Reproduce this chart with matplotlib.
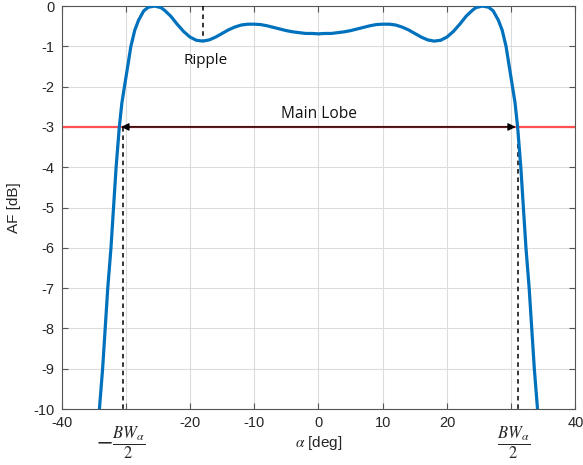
import matplotlib
matplotlib.use("Agg")
import matplotlib.pyplot as plt

# ---- data ----
alpha_deg = [-34.1, -33.6, -33.2, -32.8, -32.3, -31.9, -31.5, -31.0, -30.6, -30.2,
             -29.7, -29.2, -28.6, -28.0, -27.2, -26.5, -25.5, -24.5, -24.0, -23.0,
             -22.0, -21.0, -20.0, -19.0, -18.0, -17.0, -16.0, -15.0, -14.0, -13.0,
             -12.0, -11.0, -10.0, -9.0, -8.0, -7.0, -6.0, -5.0, -4.0, -3.0,
             -2.0, -1.0, 0.0, 1.0, 2.0, 3.0, 4.0, 5.0, 6.0, 7.0,
             8.0, 9.0, 10.0, 11.0, 12.0, 13.0, 14.0, 15.0, 16.0, 17.0,
             18.0, 19.0, 20.0, 21.0, 22.0, 23.0, 24.0, 24.5, 25.5, 26.5,
             27.2, 28.0, 28.6, 29.2, 29.7, 30.2, 30.6, 31.0, 31.5, 31.9,
             32.3, 32.8, 33.2, 33.6, 34.1]
af_db = [-10.0, -9.0, -8.0, -7.0, -6.0, -5.0, -4.0, -3.0, -2.4, -2.0,
         -1.5, -1.0, -0.6, -0.35, -0.12, -0.03, 0.0, -0.04, -0.1, -0.25,
         -0.45, -0.63, -0.77, -0.85, -0.87, -0.84, -0.77, -0.68, -0.59, -0.52,
         -0.47, -0.45, -0.45, -0.46, -0.49, -0.53, -0.57, -0.61, -0.64, -0.66,
         -0.68, -0.68, -0.69, -0.68, -0.68, -0.66, -0.64, -0.61, -0.57, -0.53,
         -0.49, -0.46, -0.45, -0.45, -0.47, -0.52, -0.59, -0.68, -0.77, -0.84,
         -0.87, -0.85, -0.77, -0.63, -0.45, -0.25, -0.1, -0.04, 0.0, -0.03,
         -0.12, -0.35, -0.6, -1.0, -1.5, -2.0, -2.4, -3.0, -4.0, -5.0,
         -6.0, -7.0, -8.0, -9.0, -10.0]

level_3db = -3.0
bw_left, bw_right = -30.5, 31.0
arrow_left, arrow_right = -30.7, 30.7
ripple_x, ripple_y = -18.0, -0.87

x_ticks = [-40, -30, -20, -10, 0, 10, 20, 30, 40]
x_ticklabels = ["-40", "", "-20", "-10", "0", "10", "20", "", "40"]
y_ticks = [0, -1, -2, -3, -4, -5, -6, -7, -8, -9, -10]

# ---- figure ----
plt.rcParams["font.family"] = ["Liberation Sans", "DejaVu Sans"]
plt.rcParams["mathtext.fontset"] = "stix"
fig = plt.figure(figsize=(5.83, 4.65), dpi=100)
ax = fig.add_axes([0.1055, 0.1204, 0.8815, 0.8666])

tick_col = "#262626"
ax.set_xlim(-40, 40)
ax.set_ylim(-10, 0)
ax.set_xticks(x_ticks)
ax.set_xticklabels(x_ticklabels)
ax.set_yticks(y_ticks)
ax.set_yticklabels([str(v) for v in y_ticks])
ax.grid(True, color="#dcdcdc", linewidth=0.8)
ax.set_axisbelow(True)
ax.tick_params(direction="in", top=True, right=True, length=4, width=0.8,
               colors="#555555", labelcolor=tick_col, labelsize=10.5, pad=5)
for s in ax.spines.values():
    s.set_color("#555555")
    s.set_linewidth(0.8)

# red -3 dB line
ax.axhline(level_3db, color="#ff5050", linewidth=1.6, zorder=2)
# main-lobe arrow
ax.annotate("", xy=(arrow_left, level_3db), xytext=(arrow_right, level_3db),
            arrowprops=dict(arrowstyle="<|-|>", color="black", lw=1.0,
                            mutation_scale=11, shrinkA=0, shrinkB=0), zorder=3)
# dashed BW lines
ax.plot([bw_left, bw_left], [level_3db, -10], color="black", linestyle=(0, (3, 2.5)), lw=1.1, zorder=3)
ax.plot([bw_right, bw_right], [level_3db, -10], color="black", linestyle=(0, (3, 2.5)), lw=1.1, zorder=3)
# ripple dashed line
ax.plot([ripple_x, ripple_x], [0, ripple_y], color="black", linestyle=(0, (3, 2.5)), lw=1.1, zorder=3)

# curve
ax.plot(alpha_deg, af_db, color="#0072BD", linewidth=2.3, zorder=4, clip_on=True,
        solid_joinstyle="round")

# annotations
ax.text(-17.6, -1.36, "Ripple", ha="center", va="center", fontsize=11,
        family=["Open Sans", "DejaVu Sans"], color="#111111")
ax.text(0.0, -2.68, "Main Lobe", ha="center", va="center", fontsize=11.2,
        family=["Open Sans", "DejaVu Sans"], color="#111111")

# BW labels under axis
ax.text(bw_left - 0.3, -10.85, r"$-\frac{BW_{\alpha}}{2}$", ha="center", va="center",
        fontsize=17, color=tick_col)
ax.text(bw_right - 0.6, -10.85, r"$\frac{BW_{\alpha}}{2}$", ha="center", va="center",
        fontsize=17, color=tick_col)

ax.set_xlabel(r"$\alpha$ [deg]", fontsize=11, color=tick_col, labelpad=3)
ax.set_ylabel("AF [dB]", fontsize=11, color=tick_col, labelpad=9)

fig.savefig("out.png", dpi=100)
